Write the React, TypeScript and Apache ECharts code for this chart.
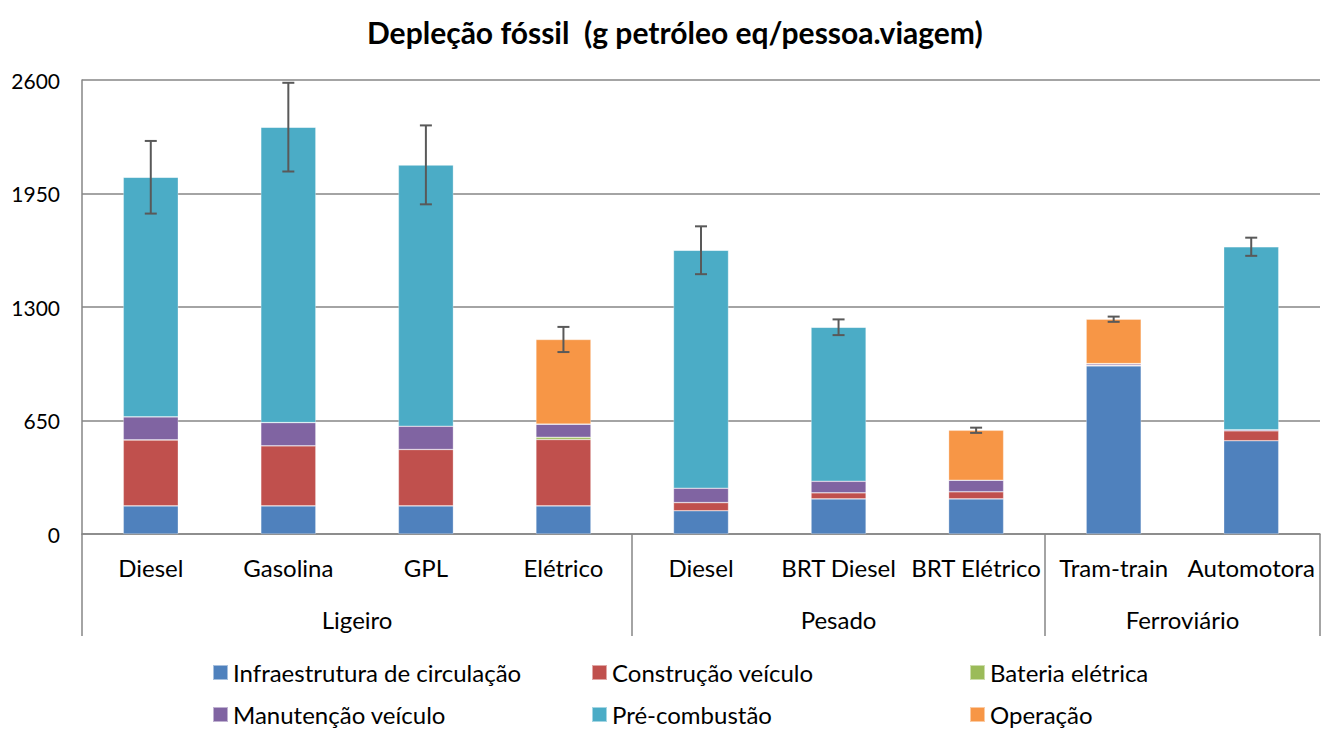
import React, { useEffect, useRef } from "react";
import * as echarts from "echarts";

const categories = ["Diesel", "Gasolina", "GPL", "Elétrico", "Diesel", "BRT Diesel", "BRT Elétrico", "Tram-train", "Automotora"];
const groups = ["Ligeiro", "Pesado", "Ferroviário"];
const groupCenters = [2, 5.5, 8];
const groupBounds = [0, 4, 7, 9];
const yTicks = [0, 650, 1300, 1950, 2600];

const infraestrutura = [161, 161, 161, 161, 133, 201, 201, 963, 534];
const construcao = [378, 344, 323, 380, 47, 35, 41, 5, 57];
const bateria = [0, 0, 0, 13, 0, 0, 0, 0, 0];
const manutencao = [132, 133, 133, 75, 82, 66, 66, 8, 6];
const precombustao = [1372, 1692, 1497, 0, 1363, 882, 0, 0, 1048];
const operacao = [0, 0, 0, 485, 0, 0, 286, 254, 0];
const erros = [208, 254, 226, 72, 137, 45, 15, 15, 52];

const seriesDefs = [
  { name: "Infraestrutura de circulação", data: infraestrutura, color: "#4F81BD" },
  { name: "Construção veículo", data: construcao, color: "#C0504D" },
  { name: "Bateria elétrica", data: bateria, color: "#9BBB59" },
  { name: "Manutenção veículo", data: manutencao, color: "#8064A2" },
  { name: "Pré-combustão", data: precombustao, color: "#4BACC6" },
  { name: "Operação", data: operacao, color: "#F79646" },
];

// legend placement: [left, top] per series, in seriesDefs order
const legendSlots = [
  [212, 660],
  [591, 660],
  [969, 660],
  [212, 702],
  [591, 702],
  [969, 702],
];

const FONT = "Lato, 'Noto Sans', sans-serif";

export default function App() {
  const ref = useRef<HTMLDivElement>(null);
  useEffect(() => {
    if (!ref.current) return;
    const chart = echarts.init(ref.current, undefined, { renderer: "svg" });
    const totals = categories.map((_, i) => seriesDefs.reduce((s, d) => s + d.data[i], 0));
    const errData = categories.map((_, i) => [i, totals[i], erros[i]]);
    const legends = seriesDefs.map((d, i) => ({
      left: legendSlots[i][0],
      top: legendSlots[i][1],
      orient: "horizontal",
      padding: 0,
      itemWidth: 15,
      itemHeight: 15,
      icon: "rect",
      selectedMode: false,
      textStyle: { fontFamily: FONT, fontSize: 24, color: "#000", lineHeight: 25 },
      data: [d.name],
    }));
    chart.setOption({
      animation: false,
      textStyle: { fontFamily: FONT },
      title: {
        text: "Depleção fóssil  (g petróleo eq/pessoa.viagem)",
        left: 362,
        top: 12,
        textStyle: { fontFamily: FONT, fontSize: 30, fontWeight: "bold", color: "#000" },
      },
      legend: legends,
      grid: { left: 82, right: 2, top: 80, bottom: 195, containLabel: false },
      xAxis: [
        {
          type: "category",
          data: categories,
          position: "bottom",
          axisLine: { lineStyle: { color: "#868686", width: 1.5 } },
          axisTick: { show: false },
          axisLabel: { interval: 0, margin: 21, fontFamily: FONT, fontSize: 24, color: "#000" },
          splitLine: { show: false },
        },
        {
          type: "value",
          min: 0,
          max: 9,
          position: "bottom",
          axisLine: { show: false },
          axisTick: {
            show: true,
            customValues: groupBounds,
            length: 102,
            inside: false,
            lineStyle: { color: "#868686", width: 1.5 },
          },
          axisLabel: {
            customValues: groupCenters,
            margin: 73,
            fontFamily: FONT,
            fontSize: 24,
            color: "#000",
            formatter: (v: number) => {
              const idx = groupCenters.indexOf(v);
              return idx >= 0 ? groups[idx] : "";
            },
          },
          splitLine: { show: false },
        },
      ],
      yAxis: {
        type: "value",
        min: 0,
        max: 2600,
        interval: 650,
        axisLine: { show: true, lineStyle: { color: "#868686", width: 1.5 } },
        axisTick: { show: false },
        axisLabel: {
          margin: 22,
          fontFamily: FONT,
          fontSize: 21,
          color: "#000",
          formatter: (v: number) => (yTicks.includes(v) ? String(v) : ""),
        },
        splitLine: { show: true, lineStyle: { color: "#868686", width: 1.5 } },
      },
      series: [
        ...seriesDefs.map((d) => ({
          name: d.name,
          type: "bar",
          stack: "total",
          xAxisIndex: 0,
          barWidth: "40%",
          data: d.data,
          itemStyle: { color: d.color, borderColor: "rgba(255,255,255,0.5)", borderWidth: 0.6 },
        })),
        {
          name: "erro",
          type: "custom",
          xAxisIndex: 0,
          yAxisIndex: 0,
          data: errData,
          z: 10,
          renderItem: (params: any, api: any) => {
            const x = api.value(0);
            const y = api.value(1);
            const e = api.value(2);
            const top = api.coord([x, y + e]);
            const bot = api.coord([x, y - e]);
            const hw = 6;
            const style = { stroke: "#595959", lineWidth: 2 };
            return {
              type: "group",
              children: [
                { type: "line", shape: { x1: top[0], y1: top[1], x2: bot[0], y2: bot[1] }, style },
                { type: "line", shape: { x1: top[0] - hw, y1: top[1], x2: top[0] + hw, y2: top[1] }, style },
                { type: "line", shape: { x1: bot[0] - hw, y1: bot[1], x2: bot[0] + hw, y2: bot[1] }, style },
              ],
            };
          },
        },
      ],
    });
    return () => chart.dispose();
  }, []);
  return <div ref={ref} style={{ width: 1322, height: 729, position: "absolute", left: 0, top: 0 }} />;
}
